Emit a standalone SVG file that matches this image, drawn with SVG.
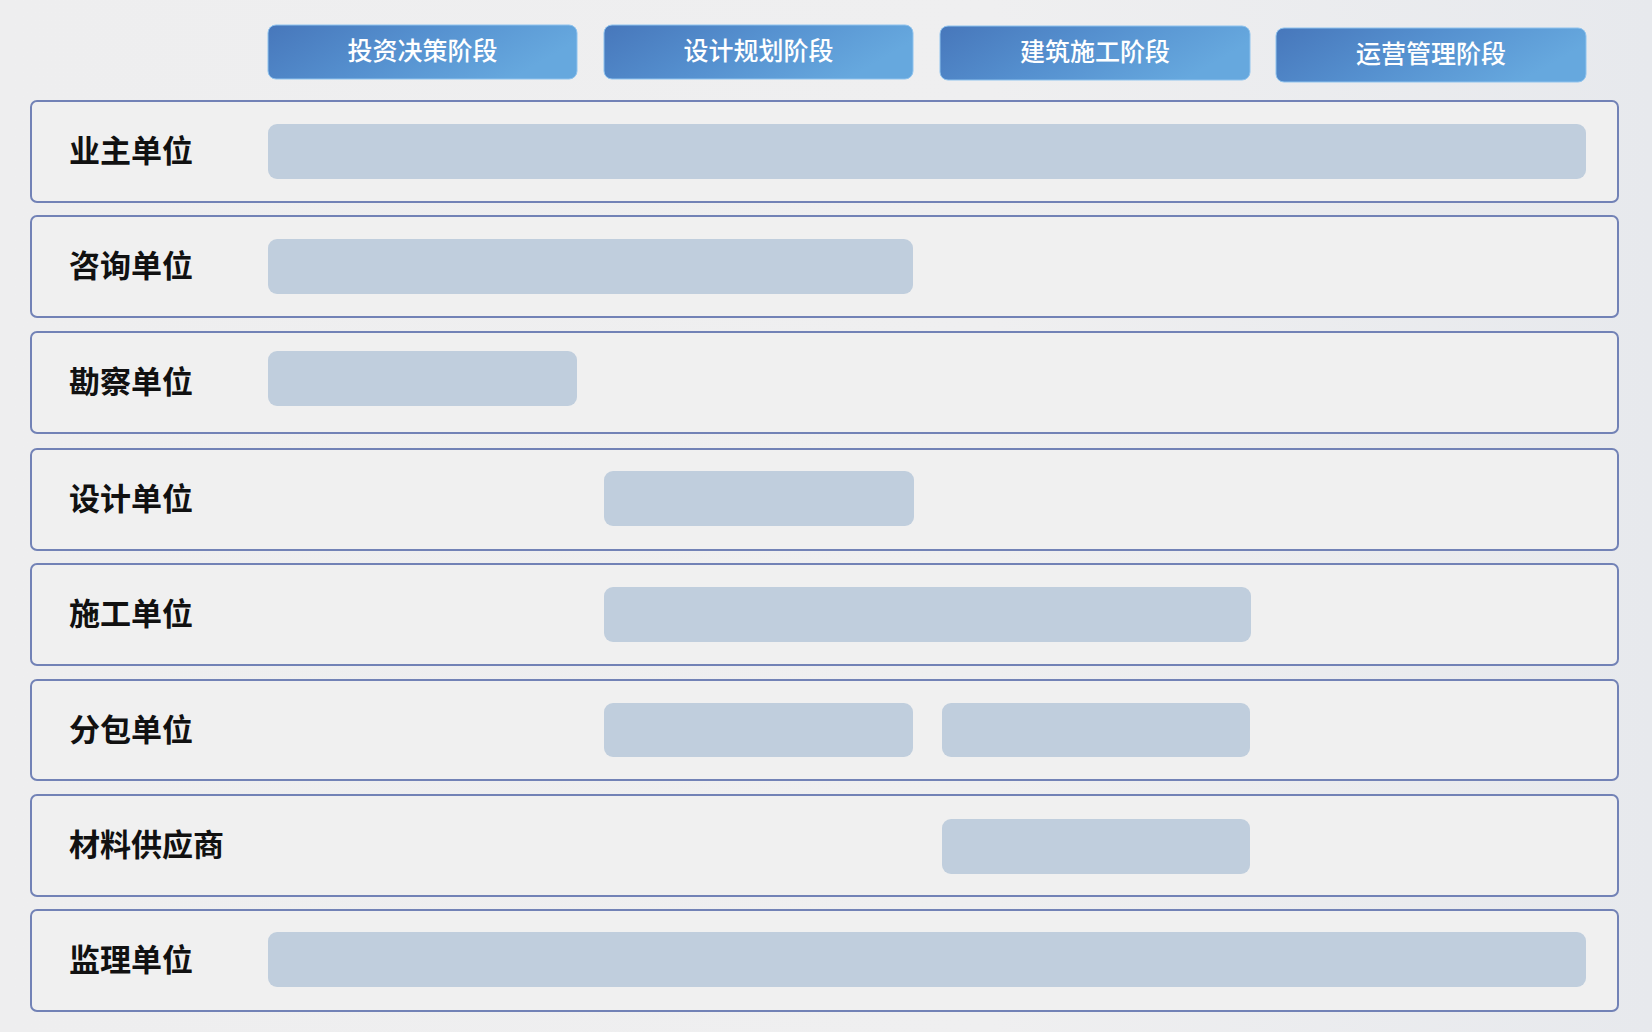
<svg xmlns="http://www.w3.org/2000/svg" width="1652" height="1032" viewBox="0 0 1652 1032">
  <defs>
    <linearGradient id="bg" x1="0" y1="0" x2="1" y2="0">
      <stop offset="0" stop-color="#eeeeef"/>
      <stop offset="0.6" stop-color="#efeff0"/>
      <stop offset="1" stop-color="#e7e9ed"/>
    </linearGradient>
    <linearGradient id="btn" x1="0" y1="0" x2="1" y2="0.3">
      <stop offset="0" stop-color="#4777bb"/>
      <stop offset="0.5" stop-color="#5590cf"/>
      <stop offset="1" stop-color="#66a8de"/>
    </linearGradient>
    <style>
      .hdr rect { fill: url(#btn); stroke: #8fc3ee; stroke-width: 1; }
      .hdr text { font-family: "Noto Sans CJK SC", "Noto Sans", sans-serif; font-size: 25px; font-weight: 500; fill: #ffffff; text-anchor: middle; dominant-baseline: central; }
      .row > rect.box { fill: #f0f0f0; stroke: #7282b6; stroke-width: 2; }
      .row > text { font-family: "Noto Sans CJK SC", "Noto Sans", sans-serif; font-size: 31px; font-weight: 700; fill: #111111; dominant-baseline: central; }
      .bar { fill: #c0cedd; }
    </style>
  </defs>
  <rect x="0" y="0" width="1652" height="1032" fill="url(#bg)"/>

  <g id="header-investment" class="hdr"><rect x="268" y="25" width="309" height="54" rx="8"/><text x="422.5" y="49">投资决策阶段</text></g>
  <g id="header-design" class="hdr"><rect x="604" y="25" width="309" height="54" rx="8"/><text x="758.5" y="49">设计规划阶段</text></g>
  <g id="header-construction" class="hdr"><rect x="940" y="26" width="310" height="54" rx="8"/><text x="1095" y="50">建筑施工阶段</text></g>
  <g id="header-operation" class="hdr"><rect x="1276" y="28" width="310" height="54" rx="8"/><text x="1431" y="52">运营管理阶段</text></g>

  <g id="row-owner" class="row"><rect class="box" x="31" y="101" width="1587" height="101" rx="6"/><text x="69" y="148.5">业主单位</text><rect class="bar" x="268" y="124" width="1318" height="55" rx="9"/></g>
  <g id="row-consulting" class="row"><rect class="box" x="31" y="216" width="1587" height="101" rx="6"/><text x="69" y="263.5">咨询单位</text><rect class="bar" x="268" y="239" width="645" height="55" rx="9"/></g>
  <g id="row-survey" class="row"><rect class="box" x="31" y="332" width="1587" height="101" rx="6"/><text x="69" y="379.5">勘察单位</text><rect class="bar" x="268" y="351" width="309" height="55" rx="9"/></g>
  <g id="row-design" class="row"><rect class="box" x="31" y="449" width="1587" height="101" rx="6"/><text x="69" y="496.5">设计单位</text><rect class="bar" x="604" y="471" width="310" height="55" rx="9"/></g>
  <g id="row-construction" class="row"><rect class="box" x="31" y="564" width="1587" height="101" rx="6"/><text x="69" y="611.5">施工单位</text><rect class="bar" x="604" y="587" width="647" height="55" rx="9"/></g>
  <g id="row-subcontract" class="row"><rect class="box" x="31" y="680" width="1587" height="100" rx="6"/><text x="69" y="727">分包单位</text><rect class="bar" x="604" y="703" width="309" height="54" rx="9"/><rect class="bar" x="942" y="703" width="308" height="54" rx="9"/></g>
  <g id="row-supplier" class="row"><rect class="box" x="31" y="795" width="1587" height="101" rx="6"/><text x="69" y="842.5">材料供应商</text><rect class="bar" x="942" y="819" width="308" height="55" rx="9"/></g>
  <g id="row-supervision" class="row"><rect class="box" x="31" y="910" width="1587" height="101" rx="6"/><text x="69" y="957.5">监理单位</text><rect class="bar" x="268" y="932" width="1318" height="55" rx="9"/></g>

  <g id="connectors"/>
</svg>
